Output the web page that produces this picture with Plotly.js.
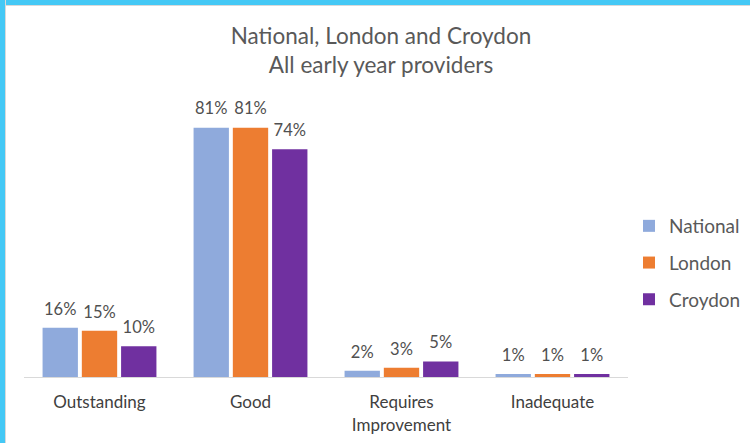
<!DOCTYPE html>
<html><head><meta charset="utf-8">
<script src="https://cdn.plot.ly/plotly-3.0.1.min.js"></script>
<style>
html,body{margin:0;padding:0;background:#fff;}
#wrap{position:relative;width:750px;height:443px;overflow:hidden;}
#chart{position:absolute;left:0;top:0;width:750px;height:443px;}
#bt{position:absolute;left:0;top:0;width:750px;height:5px;background:#44c8f5;border-bottom:1px solid #d9d9d9;}
#bl{position:absolute;left:0;top:0;width:5px;height:443px;background:#44c8f5;border-right:1px solid #d9d9d9;}
</style></head>
<body><div id="wrap"><div id="chart"></div><div id="bt"></div><div id="bl"></div></div>
<script>
const categories = ["Outstanding", "Good", "Requires<br>Improvement", "Inadequate"];
const seriesNames = ["National", "London", "Croydon"];
const national = [16, 81, 2, 1];
const london = [15, 81, 3, 1];
const croydon = [10, 74, 5, 1];
const colors = ["#8faadc", "#ed7d31", "#7030a0"];
const values = [national, london, croydon];

const FONT = "Lato, 'Open Sans', sans-serif";
const GAP = 0.22;
const bars = values.map((v, i) => ({
  type: "bar",
  name: seriesNames[i],
  x: categories,
  y: v,
  offsetgroup: "s" + i,
  marker: {color: colors[i]},
  legendgroup: "g" + i,
  hoverinfo: "none"
}));
const labels = values.map((v, i) => ({
  type: "scatter",
  mode: "markers+text",
  name: seriesNames[i] + " labels",
  x: categories,
  y: v,
  offsetgroup: "s" + i,
  text: v.map(d => d + "%"),
  textposition: "top center",
  textfont: {family: FONT, size: 16.5, color: "#505050"},
  marker: {size: 13, color: "rgba(0,0,0,0)", line: {width: 0}},
  cliponaxis: false,
  showlegend: false,
  hoverinfo: "none"
}));

const layout = {
  width: 750, height: 443,
  margin: {l: 24, r: 122, t: 100, b: 66},
  paper_bgcolor: "#ffffff", plot_bgcolor: "#ffffff",
  font: {family: FONT, color: "#404040"},
  title: {
    text: "National, London and Croydon<br>All early year providers",
    font: {family: FONT, size: 22.5, color: "#595959"},
    x: 381/750, xref: "container", xanchor: "center",
    y: 1 - 44/443, yref: "container", yanchor: "middle"
  },
  barmode: "group",
  bargap: GAP,
  bargroupgap: 0.1,
  scattermode: "group",
  scattergap: GAP,
  xaxis: {
    showline: true, linecolor: "#d9d9d9", linewidth: 1,
    ticks: "", tickfont: {family: FONT, size: 17, color: "#404040"},
    ticklabelstandoff: 10,
    showgrid: false, fixedrange: true
  },
  yaxis: {
    range: [0, 90], visible: false, showgrid: false, zeroline: false, fixedrange: true
  },
  showlegend: true,
  legend: {
    x: 629/750, xref: "container", xanchor: "left",
    y: 1 - 263/443, yref: "container", yanchor: "middle",
    font: {family: FONT, size: 19, color: "#595959"},
    traceorder: "grouped", tracegroupgap: 9,
    itemwidth: 30
  }
};
Plotly.newPlot("chart", bars.concat(labels), layout, {displayModeBar: false, staticPlot: true});
</script></body></html>
